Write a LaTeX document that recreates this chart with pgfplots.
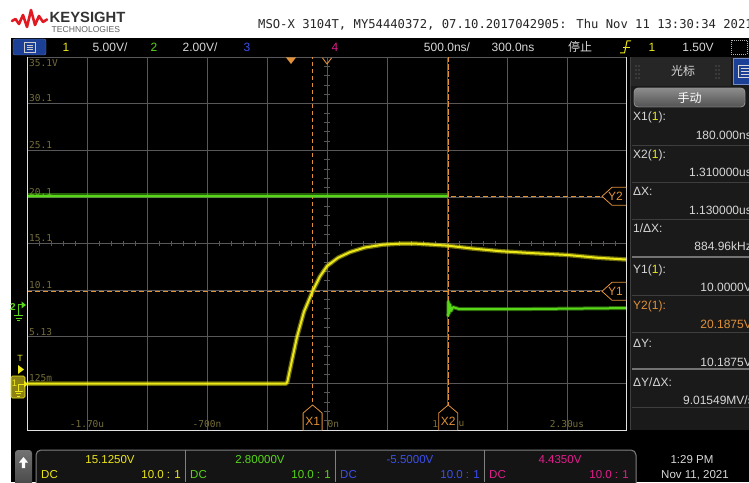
\documentclass[border=0pt]{standalone}
\usepackage{pgfplots}
\pgfplotsset{compat=1.18}
\usepackage{fontspec}
\setmainfont{Liberation Sans}
\newfontfamily\mono{DejaVu Sans Mono}
\newfontfamily\cjk{Noto Sans CJK SC}
\definecolor{ch1}{RGB}{236,232,24}
\definecolor{ch1box}{RGB}{140,130,20}
\definecolor{ch2}{RGB}{88,214,24}
\definecolor{ch3}{RGB}{60,80,235}
\definecolor{ch4}{RGB}{225,30,140}
\definecolor{cur}{RGB}{225,145,55}
\definecolor{gridc}{RGB}{88,88,88}
\definecolor{glabel}{RGB}{118,110,58}
\definecolor{panel}{RGB}{26,26,26}
\definecolor{ptext}{RGB}{215,215,215}
\definecolor{sep}{RGB}{62,62,62}
\definecolor{kred}{RGB}{225,25,35}
\definecolor{uiblue}{RGB}{28,64,150}
\newcommand\ui{\fontsize{12}{14}\selectfont}
\newcommand\gl{\mono\fontsize{9.5}{11}\selectfont}
\begin{document}
\begin{tikzpicture}[x=1pt,y=1pt]
\path[use as bounding box] (0,0) rectangle (749,482);
% ---------- background layer (image coordinates) ----------
\begin{scope}[y=-1pt,shift={(0pt,482pt)}]
\fill[white] (0,0) rectangle (749,482);
\fill[black] (11,38) rectangle (749,482);
% center tick marks
\foreach \k in {1,...,39} \draw[gridc,line width=0.6pt] (324,{57+\k*9.325}) -- (330,{57+\k*9.325});
\foreach \k in {1,...,49} \draw[gridc,line width=0.6pt] ({27+\k*12},241) -- ({27+\k*12},246);
\draw[gridc,line width=0.8pt] (27,57) -- (626,57);
% grid labels
\node[anchor=north west,inner sep=0,glabel] at (29,59) {\gl 35.1V};
\foreach \yy/\tt in {103/30.1,150/25.1,197/20.1,243/15.1,290/10.1,337/5.13,383/125m}
  \node[anchor=south west,inner sep=0,glabel] at (29,{\yy-1.5}) {\gl \tt};
\foreach \xx/\tt in {87/-1.70u,207/-700n,567/2.30us}
  \node[glabel,inner sep=0] at (\xx,424) {\gl \tt};
% labels partly hidden by the cursor markers: only the visible parts
\node[glabel,inner sep=0,anchor=west] at (327.5,424) {\gl 0n};
\node[glabel,inner sep=0,anchor=east] at (438.2,424) {\gl 1};
\node[glabel,inner sep=0,anchor=west] at (458.4,424) {\gl u};
\end{scope}
% ---------- the axis ----------
\begin{axis}[at={(27pt,52pt)},anchor=south west,scale only axis,width=600pt,height=373pt,
  xmin=-2.2,xmax=2.8,ymin=-4.875,ymax=35.125,
  xtick={-1.7,-1.2,-0.7,-0.2,0.3,0.8,1.3,1.8,2.3},
  ytick={0.125,5.125,10.125,15.125,20.125,25.125,30.125},
  xticklabels={},yticklabels={},major tick length=0pt,
  grid=major,grid style={draw=gridc,line width=0.6pt},
  axis line style={draw=none},clip=true]
% cursors
\addplot[cur,line width=0.9pt,dash pattern=on 4pt off 3pt] coordinates {(0.18,-4.875)(0.18,35.125)};
\addplot[cur,line width=0.9pt,dash pattern=on 6pt off 1.5pt] coordinates {(1.31,-4.875)(1.31,35.125)};
\addplot[cur,line width=0.9pt,dash pattern=on 5pt off 3pt] coordinates {(-2.2,10)(2.8,10)};
\addplot[cur,line width=0.9pt,dash pattern=on 5pt off 3pt] coordinates {(-2.2,20.1875)(2.8,20.1875)};
% channel 2 (green)
\addplot[ch2,line width=4.5pt,opacity=0.45] coordinates {(-2.2,20.25)(1.305,20.25)};
\addplot[ch2,line width=2pt] coordinates {(-2.2,20.25)(1.305,20.25)};
\addplot[ch2,line width=4pt,opacity=0.45,line join=round] coordinates {(1.31,7.3)(1.312,8.9)(1.318,7.6)(1.325,8.6)(1.335,7.9)(1.35,8.3)(1.4,8.1)(2.0,8.1)(2.8,8.2)};
\addplot[ch2,line width=2pt,line join=round] coordinates {(1.31,7.3)(1.312,8.9)(1.318,7.6)(1.325,8.6)(1.335,7.9)(1.35,8.3)(1.4,8.1)(2.0,8.1)(2.8,8.2)};
% channel 1 (yellow)
\addplot[ch1,line width=4.5pt,opacity=0.45,line join=round] coordinates {(-2.2,0.1)(-0.04,0.1)(-0.03,0.3)(0.008,2.6)(0.05,5.1)(0.108,7.8)(0.18,10.0)(0.242,11.6)(0.3,12.7)(0.392,13.6)(0.492,14.2)(0.617,14.7)(0.767,15.0)(0.9,15.1)(1.05,15.1)(1.3,14.9)(1.5,14.6)(1.742,14.3)(2.0,14.1)(2.3,13.9)(2.55,13.6)(2.8,13.4)};
\addplot[ch1,line width=2pt,line join=round] coordinates {(-2.2,0.1)(-0.04,0.1)(-0.03,0.3)(0.008,2.6)(0.05,5.1)(0.108,7.8)(0.18,10.0)(0.242,11.6)(0.3,12.7)(0.392,13.6)(0.492,14.2)(0.617,14.7)(0.767,15.0)(0.9,15.1)(1.05,15.1)(1.3,14.9)(1.5,14.6)(1.742,14.3)(2.0,14.1)(2.3,13.9)(2.55,13.6)(2.8,13.4)};
\end{axis}
% ---------- overlay layer (image coordinates) ----------
\begin{scope}[y=-1pt,shift={(0pt,482pt)}]
% plot border
\draw[white!88!black,line width=1pt] (27,57) -- (27,430) -- (626,430) -- (626,57);
% cursor markers
\foreach \cx/\lab in {312.6/X1,448.2/X2}{
  \filldraw[fill=black,draw=cur,line width=0.8pt] ({\cx-9.5},430) -- ({\cx-9.5},413) -- (\cx,405) -- ({\cx+9.5},413) -- ({\cx+9.5},430);
  \node[cur,inner sep=0] at (\cx,421) {\ui \lab};
}
\foreach \cy/\lab in {291.3/Y1,196.3/Y2}{
  \filldraw[fill=black,draw=cur,line width=0.8pt] (626,{\cy-9}) -- (612,{\cy-9}) -- (602,\cy) -- (612,{\cy+9}) -- (626,{\cy+9});
  \node[cur,inner sep=0] at (615.5,\cy) {\ui \lab};
}
% trigger and delay markers
\fill[cur] (286,57.5) -- (296,57.5) -- (291,64) -- cycle;
\draw[cur,line width=0.9pt] (322.5,58) -- (327,64) -- (331.5,58);
% left channel markers
\node[ch2,inner sep=0] at (13,307) {\fontsize{10}{10}\selectfont\bfseries 2};
\draw[ch2,line width=1pt] (18.5,315) -- (18.5,305) -- (22,305);
\fill[ch2] (21.5,301.5) -- (26,305) -- (21.5,308.5) -- cycle;
\draw[ch2,line width=0.9pt] (14,315.5) -- (23,315.5) (15.5,318) -- (21.5,318) (17,320.5) -- (20,320.5);
\node[ch1,inner sep=0] at (20,358) {\fontsize{9}{9}\selectfont T};
\fill[ch1] (18,365) -- (24,369.5) -- (18,374) -- cycle;
\filldraw[fill=ch1box,draw=ch1,line width=0.6pt,rounded corners=1.5pt] (11,376) rectangle (25,398);
\node[ch1,inner sep=0] at (14.5,383) {\fontsize{9.5}{9.5}\selectfont 1};
\draw[ch1,line width=0.9pt] (18.5,391) -- (18.5,384) -- (25,384);
\fill[ch1] (24,380.5) -- (28,384) -- (24,387.5) -- cycle;
\draw[ch1,line width=0.8pt] (14.5,391) -- (22.5,391) (16,393.5) -- (21,393.5) (17.3,396) -- (19.7,396);
% ---------- header ----------
\draw[kred,line width=2.6pt,line join=round,line cap=round] (12,21) -- (15.5,19) -- (19,24) -- (23,15) -- (27,27) -- (31,10) -- (35,25) -- (39,16) -- (43,22) -- (47,19.5);
\node[anchor=west,inner sep=0,black!80] at (49.5,17) {\fontsize{14.8}{16}\selectfont\bfseries KEYSIGHT};
\node[anchor=west,inner sep=0,black!62] at (51.5,29.5) {\fontsize{8.6}{9}\selectfont TECHNOLOGIES};
\node[anchor=west,inner sep=0,black!85] at (258,25) {\mono\fontsize{12.2}{14}\selectfont MSO-X 3104T, MY54440372, 07.10.2017042905: Thu Nov 11 13:30:34 2021};
% menu bar
\filldraw[fill=uiblue,draw=uiblue!70!white,rounded corners=2pt] (13,39) rectangle (46,55);
\draw[white!80!black,line width=0.7pt] (24,42) rectangle (35,52) (26.5,45) -- (32.5,45) (26.5,47) -- (32.5,47) (26.5,49) -- (32.5,49);
\node[ch1,inner sep=0] at (66,47) {\ui 1};
\node[ptext,inner sep=0] at (110,47) {\ui 5.00V/};
\node[ch2,inner sep=0] at (154,47) {\ui 2};
\node[ptext,inner sep=0] at (200,47) {\ui 2.00V/};
\node[ch3,inner sep=0] at (247,47) {\ui 3};
\node[ch4,inner sep=0] at (335,47) {\ui 4};
\node[ptext,inner sep=0] at (447,47) {\ui 500.0ns/};
\node[ptext,inner sep=0] at (513,47) {\ui 300.0ns};
\node[ptext,inner sep=0] at (580,47) {\cjk\fontsize{12}{14}\selectfont 停止};
\draw[ch1,line width=1pt] (620,53) -- (624.5,53) -- (627,41) -- (631,41);
\draw[ch1,line width=0.8pt] (622.5,47) -- (629.5,47);
\node[ch1,inner sep=0] at (652,47) {\ui 1};
\node[ptext,inner sep=0] at (698,47) {\ui 1.50V};
\draw[white!70!black,line width=0.7pt,dash pattern=on 1pt off 1pt] (731,40) rectangle (747,54);
% ---------- right panel ----------
\fill[panel] (630,57) rectangle (749,430);
\draw[sep,line width=0.8pt] (630,57) -- (630,430);
\fill[black!85!white] (631,57) rectangle (731,86);
\foreach \dx in {636,716}{
  \foreach \dy in {66,70,74,78}{ \fill[gray] (\dx,\dy) circle (0.6); \fill[gray] ({\dx+3},\dy) circle (0.6); }
}
\node[ptext,inner sep=0] at (683,71) {\cjk\fontsize{12}{14}\selectfont 光标};
\filldraw[fill=uiblue,draw=uiblue!60!white,line width=0.8pt] (733,58) rectangle (752,84);
\draw[white!85!black,line width=0.7pt] (738,65) rectangle (749,77) (740.5,68) -- (749,68) (740.5,71) -- (749,71) (740.5,74) -- (749,74);
\shade[top color=black!45!white,bottom color=black!68!white,rounded corners=4pt,draw=black!40!white] (634,88) rectangle (745,107);
\draw[black!40!white,rounded corners=4pt] (634,88) rectangle (745,107);
\node[white,inner sep=0] at (689.5,97.5) {\cjk\fontsize{12}{14}\selectfont 手动};
\foreach \sy in {145,182,219,295,332,407} \draw[sep,line width=0.8pt] (632,\sy) -- (749,\sy);
\foreach \sy in {257,369} \draw[black!55!white,line width=2pt] (632,\sy) -- (749,\sy);
\node[anchor=west,inner sep=0,ptext] at (633,117) {\ui X1(\textcolor{ch1}{1}):};
\node[anchor=east,inner sep=0,ptext] at (752,135) {\ui 180.000ns};
\node[anchor=west,inner sep=0,ptext] at (633,155) {\ui X2(\textcolor{ch1}{1}):};
\node[anchor=east,inner sep=0,ptext] at (752,172.5) {\ui 1.310000us};
\node[anchor=west,inner sep=0,ptext] at (633,191.5) {\ui ΔX:};
\node[anchor=east,inner sep=0,ptext] at (752,210) {\ui 1.130000us};
\node[anchor=west,inner sep=0,ptext] at (633,228.5) {\ui 1/ΔX:};
\node[anchor=east,inner sep=0,ptext] at (752,246.5) {\ui 884.96kHz};
\node[anchor=west,inner sep=0,ptext] at (633,270) {\ui Y1(\textcolor{ch1}{1}):};
\node[anchor=east,inner sep=0,ptext] at (752,287) {\ui 10.0000V};
\node[anchor=west,inner sep=0,cur] at (633,306.5) {\ui Y2(1):};
\node[anchor=east,inner sep=0,cur] at (752,324) {\ui 20.1875V};
\node[anchor=west,inner sep=0,ptext] at (633,343.5) {\ui ΔY:};
\node[anchor=east,inner sep=0,ptext] at (752,362.5) {\ui 10.1875V};
\node[anchor=west,inner sep=0,ptext] at (633,382.5) {\ui ΔY/ΔX:};
\node[anchor=east,inner sep=0,ptext] at (754,400) {\ui 9.01549MV/s};
% ---------- bottom bar ----------
\shade[top color=black!55!white,bottom color=black!75!white,rounded corners=3pt] (15,450) rectangle (32,492);
\fill[white] (23.5,457) -- (28,462.5) -- (25.2,462.5) -- (25.2,468) -- (21.8,468) -- (21.8,462.5) -- (19,462.5) -- cycle;
\filldraw[fill=black!92!white,draw=black!50!white,line width=1pt,rounded corners=5pt] (36,450) rectangle (636,495);
\foreach \dx in {185,335,484} \draw[black!50!white,line width=0.8pt] (\dx,450) -- (\dx,482);
\foreach \cx/\left/\right/\val/\col in {110/41/181/15.1250V/ch1,260/190/331/2.80000V/ch2,410/340/480/-5.5000V/ch3,560/489/629/4.4350V/ch4}{
  \node[\col,inner sep=0] at (\cx,460) {\fontsize{11.5}{13}\selectfont \val};
  \node[\col,anchor=west,inner sep=0] at (\left,475) {\fontsize{11.5}{13}\selectfont DC};
  \node[\col,anchor=east,inner sep=0] at (\right,475) {\fontsize{11.5}{13}\selectfont 10.0 : 1};
}
\node[ptext,inner sep=0] at (692,460) {\fontsize{11.5}{13}\selectfont 1:29 PM};
\node[ptext,inner sep=0] at (695,475) {\fontsize{11.5}{13}\selectfont Nov 11, 2021};
\end{scope}
\end{tikzpicture}
\end{document}
